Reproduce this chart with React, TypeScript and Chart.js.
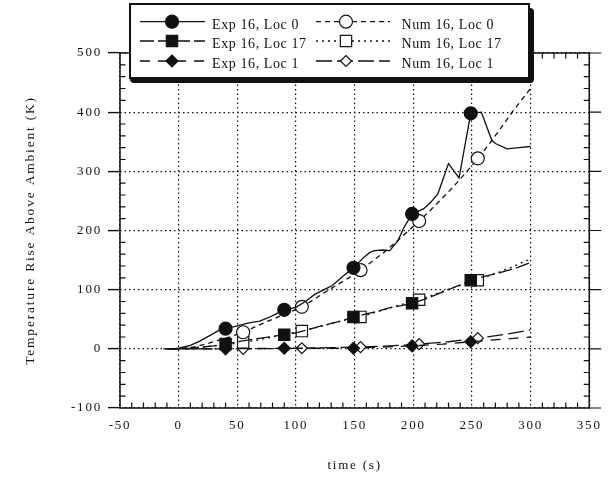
import React, { useEffect, useRef } from 'react';
import { Chart, registerables } from 'chart.js';
import { drawPoint } from 'chart.js/helpers';

Chart.register(...registerables);

const FONT_FAMILY = '"Liberation Serif", "Times New Roman", Times, serif';
const INK = '#111111';

// ---- axis ticks ----
const xTicks = [-50, 0, 50, 100, 150, 200, 250, 300, 350];
const yTicks = [-100, 0, 100, 200, 300, 400, 500];
const xMinorStep = 10;
const yMinorStep = 20;

// ---- series ----
const expLoc0Time = [-13, -5, 0, 10, 18, 28, 35, 40, 50, 60, 69, 77, 83, 90, 100, 108, 116, 124, 131, 139, 149, 158, 163, 167, 174, 180, 187, 192, 199, 209, 215, 221, 230, 239, 249, 258, 267, 270, 280, 290, 300];
const expLoc0Temp = [0, 0, 1, 6, 13, 24, 32, 34, 39, 44, 47, 53, 59, 66, 70, 80, 92, 100, 107, 121, 137, 155, 163, 166, 167, 166, 183, 205, 228, 237, 248, 262, 313, 289, 398, 400, 352, 347, 338, 340, 342];

const numLoc0Time = [-5, 5, 15, 25, 35, 45, 55, 65, 75, 85, 95, 105, 115, 125, 135, 145, 155, 165, 175, 185, 195, 205, 215, 225, 235, 245, 255, 265, 275, 285, 300];
const numLoc0Temp = [0, 1, 4, 9, 15, 21, 28, 37, 46, 54, 62, 71, 83, 96, 108, 120, 133, 148, 163, 180, 198, 216, 235, 255, 276, 298, 322, 347, 374, 402, 440];

const expLoc17Time = [-10, 0, 10, 20, 30, 40, 50, 60, 70, 80, 90, 100, 110, 120, 130, 140, 149, 160, 170, 181, 190, 199, 210, 220, 230, 240, 249, 260, 274, 288, 300];
const expLoc17Temp = [0, 0, 1, 3, 5, 8, 12, 15, 18, 21, 24, 27, 32, 38, 43, 48, 54, 59, 64, 70, 73, 77, 84, 92, 100, 108, 116, 122, 129, 137, 146];

const numLoc17Time = [-5, 5, 15, 25, 35, 45, 55, 65, 75, 85, 95, 105, 115, 125, 135, 145, 155, 165, 175, 185, 195, 205, 215, 225, 235, 245, 255, 265, 275, 285, 300];
const numLoc17Temp = [0, 1, 2, 4, 6, 8, 11, 14, 18, 22, 26, 30, 35, 40, 45, 50, 54, 60, 66, 72, 78, 83, 90, 97, 104, 110, 116, 124, 131, 139, 152];

const expLoc1Time = [-10, 40, 65, 90, 120, 149, 175, 199, 225, 249, 275, 300];
const expLoc1Temp = [0, 0, 0.5, 1, 1, 1, 3, 5, 8, 12, 16, 20];

const numLoc1Time = [-5, 30, 55, 80, 105, 130, 155, 180, 205, 230, 255, 280, 300];
const numLoc1Temp = [0, 0, 0, 0.5, 1, 2, 3, 5, 8, 12, 18, 25, 32];

const expMarkerTimes = [40, 90, 149, 199, 249];
const numMarkerTimes = [55, 105, 155, 205, 255];

const seriesLabels = [
  'Exp 16, Loc 0',
  'Num 16, Loc 0',
  'Exp 16, Loc 17',
  'Num 16, Loc 17',
  'Exp 16, Loc 1',
  'Num 16, Loc 1',
];

type Style = { dash: number[]; pointStyle: string; radius: number; filled: boolean };

const styles: Style[] = [
  { dash: [], pointStyle: 'circle', radius: 6.5, filled: true },
  { dash: [5, 4], pointStyle: 'circle', radius: 6.5, filled: false },
  { dash: [14, 4], pointStyle: 'rect', radius: 8, filled: true },
  { dash: [2, 4], pointStyle: 'rect', radius: 8, filled: false },
  { dash: [10, 8], pointStyle: 'rectRot', radius: 6, filled: true },
  { dash: [16, 5], pointStyle: 'rectRot', radius: 5.5, filled: false },
];

const seriesData = [
  [expLoc0Time, expLoc0Temp, expMarkerTimes],
  [numLoc0Time, numLoc0Temp, numMarkerTimes],
  [expLoc17Time, expLoc17Temp, expMarkerTimes],
  [numLoc17Time, numLoc17Temp, numMarkerTimes],
  [expLoc1Time, expLoc1Temp, expMarkerTimes],
  [numLoc1Time, numLoc1Temp, numMarkerTimes],
];

const framePlugin = {
  id: 'frameAndLegend',
  beforeDraw(chart: any) {
    (chart.ctx as any).letterSpacing = '1.8px';
  },
  afterDraw(chart: any) {
    const { ctx, chartArea: a, scales } = chart;
    const xs = scales.x;
    const ys = scales.y;
    ctx.save();
    ctx.setLineDash([]);
    ctx.strokeStyle = INK;
    ctx.lineWidth = 1.5;
    ctx.strokeRect(a.left, a.top, a.right - a.left, a.bottom - a.top);

    // minor ticks (inward) & right major ticks (outward)
    ctx.lineWidth = 1.2;
    ctx.beginPath();
    const xMin = xTicks[0], xMax = xTicks[xTicks.length - 1];
    for (let v = xMin; v <= xMax; v += xMinorStep) {
      if (xTicks.includes(v)) continue;
      const px = xs.getPixelForValue(v);
      ctx.moveTo(px, a.bottom); ctx.lineTo(px, a.bottom - 5.5);
      ctx.moveTo(px, a.top); ctx.lineTo(px, a.top + 5.5);
    }
    const yMin = yTicks[0], yMax = yTicks[yTicks.length - 1];
    for (let v = yMin; v <= yMax; v += yMinorStep) {
      const py = ys.getPixelForValue(v);
      if (yTicks.includes(v)) {
        ctx.moveTo(a.right, py); ctx.lineTo(a.right + 12, py);
        continue;
      }
      ctx.moveTo(a.left, py); ctx.lineTo(a.left + 5.5, py);
      ctx.moveTo(a.right, py); ctx.lineTo(a.right - 5.5, py);
    }
    ctx.stroke();

    // legend box with shadow
    ctx.fillStyle = INK;
    ctx.beginPath();
    (ctx as any).roundRect ? (ctx as any).roundRect(130, 8, 404, 75, 4) : ctx.rect(130, 8, 404, 75);
    ctx.fill();
    ctx.fillStyle = '#ffffff';
    ctx.fillRect(130, 4, 399, 74);
    ctx.lineWidth = 2;
    ctx.strokeRect(130, 4, 399, 74);

    const rowMarkerY = [21.7, 41, 61];
    const rowBaseline = [28.7, 48.3, 67.9];
    const cols = [
      { x0: 140, x1: 205, mx: 172, tx: 212 },
      { x0: 316, x1: 390, mx: 346, tx: 401.5 },
    ];
    ctx.font = `14px ${FONT_FAMILY}`;
    (ctx as any).letterSpacing = '0.6px';
    ctx.textAlign = 'left';
    ctx.textBaseline = 'alphabetic';
    for (let i = 0; i < seriesLabels.length; i++) {
      const row = Math.floor(i / 2);
      const col = cols[i % 2];
      const st = styles[i];
      const my = rowMarkerY[row];
      ctx.strokeStyle = INK;
      ctx.lineWidth = 1.3;
      ctx.setLineDash(st.dash);
      ctx.beginPath();
      ctx.moveTo(col.x0, my);
      ctx.lineTo(col.x1, my);
      ctx.stroke();
      ctx.setLineDash([]);
      ctx.fillStyle = st.filled ? INK : '#ffffff';
      ctx.lineWidth = 1.2;
      drawPoint(ctx, { pointStyle: st.pointStyle as any, radius: st.radius, rotation: 0, borderWidth: 1.2 }, col.mx, my);
      ctx.fillStyle = INK;
      ctx.fillText(seriesLabels[i], col.tx, rowBaseline[row]);
    }
    ctx.restore();
  },
};

export default function App() {
  const ref = useRef<HTMLCanvasElement>(null);

  useEffect(() => {
    const canvas = ref.current;
    if (!canvas) return;

    const datasets = seriesData.map(([times, temps, markers], i) => {
      const st = styles[i];
      return {
        label: seriesLabels[i],
        data: times.map((t, k) => ({ x: t, y: temps[k] })),
        borderColor: INK,
        borderWidth: 1.3,
        borderDash: st.dash,
        backgroundColor: st.filled ? INK : '#ffffff',
        pointBackgroundColor: st.filled ? INK : '#ffffff',
        pointBorderColor: INK,
        pointBorderWidth: 1.2,
        pointStyle: st.pointStyle,
        pointRadius: (c: any) => (markers.includes(c.raw?.x) ? st.radius : 0),
        pointHoverRadius: (c: any) => (markers.includes(c.raw?.x) ? st.radius : 0),
        tension: 0,
        fill: false,
      };
    });

    const tickFont = { family: FONT_FAMILY, size: 13 };

    const chart = new Chart(canvas, {
      type: 'line',
      data: { datasets } as any,
      options: {
        animation: false,
        responsive: false,
        devicePixelRatio: 1,
        events: [],
        layout: { padding: { left: 0, right: 16, top: 53, bottom: 0 } },
        plugins: { legend: { display: false }, tooltip: { enabled: false } },
        scales: {
          x: {
            type: 'linear',
            min: xTicks[0],
            max: xTicks[xTicks.length - 1],
            afterBuildTicks: (s: any) => { s.ticks = xTicks.map((v) => ({ value: v })); },
            afterFit: (s: any) => { s.height = 72; },
            ticks: { autoSkip: false, maxRotation: 0, padding: 10, color: INK, font: tickFont },
            grid: {
              color: INK, lineWidth: 1.2, drawTicks: false,
              tickBorderDash: [],
            },
            border: { display: false, dash: [1.5, 3] },
            title: {
              display: true, text: 'time (s)', color: INK,
              font: { family: FONT_FAMILY, size: 13 },
              padding: { top: 0, bottom: 7 },
            },
          },
          y: {
            type: 'linear',
            min: yTicks[0],
            max: yTicks[yTicks.length - 1],
            afterBuildTicks: (s: any) => { s.ticks = yTicks.map((v) => ({ value: v })); },
            afterFit: (s: any) => { s.width = 120; },
            ticks: { padding: 6, color: INK, font: tickFont },
            grid: {
              color: INK, lineWidth: 1.2, drawTicks: true, tickLength: 12,
              tickColor: INK, tickWidth: 1.4, tickBorderDash: [],
            },
            border: { display: false, dash: [1.5, 3] },
            title: {
              display: true, text: 'Temperature Rise Above Ambient (K)', color: INK,
              font: { family: FONT_FAMILY, size: 13.5 },
              padding: { top: 22, bottom: 0 },
            },
          },
        },
      } as any,
      plugins: [framePlugin],
    });

    return () => chart.destroy();
  }, []);

  return (
    <div style={{ position: 'absolute', left: 0, top: 0, width: 609, height: 480, background: '#fff' }}>
      <canvas ref={ref} width={609} height={480} style={{ display: 'block' }} />
    </div>
  );
}
